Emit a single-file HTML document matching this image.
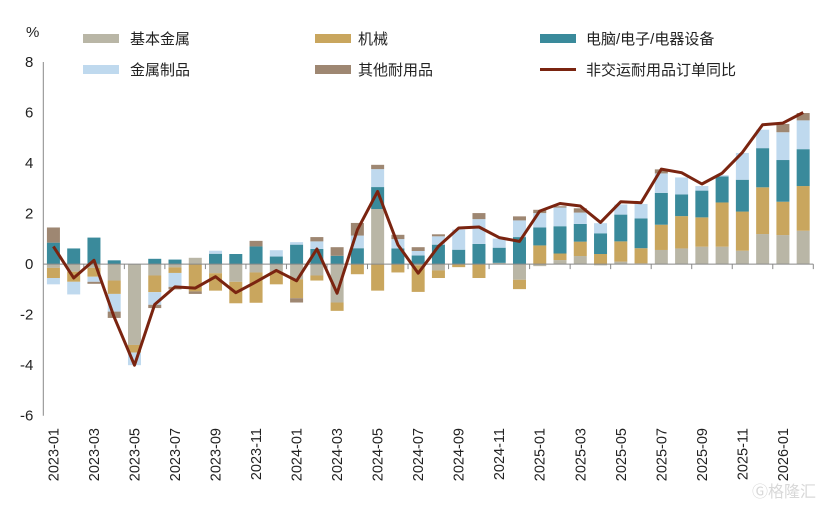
<!DOCTYPE html>
<html><head><meta charset="utf-8"><style>
body{margin:0;background:#fff;}
svg text{font-family:"Liberation Sans","Noto Sans CJK SC",sans-serif;}
</style></head><body>
<svg id="chart" width="828" height="507" viewBox="0 0 828 507" xmlns="http://www.w3.org/2000/svg">
<text x="26" y="37" font-size="15" fill="#222">%</text>
<g font-size="15" fill="#222">
 <rect x="83" y="34" width="36" height="9" fill="#b9b6a6"/>
 <text x="130" y="44">基本金属</text>
 <rect x="315" y="34" width="36" height="9" fill="#c9a65e"/>
 <text x="358" y="44">机械</text>
 <rect x="540" y="34" width="36" height="9" fill="#3a8a9b"/>
 <text x="586" y="44">电脑/电子/电器设备</text>
 <rect x="83" y="65" width="36" height="9" fill="#bfd9ee"/>
 <text x="130" y="75">金属制品</text>
 <rect x="315" y="65" width="36" height="9" fill="#9e8772"/>
 <text x="358" y="75">其他耐用品</text>
 <rect x="540" y="68" width="36" height="3" fill="#7a2410"/>
 <text x="586" y="75">非交运耐用品订单同比</text>
</g>
<g id="plot"></g>
<text x="752" y="497" font-size="16" fill="#d8d8d8">Ⓖ格隆汇</text>
</svg>
<script>
const months=["2023-01","2023-02","2023-03","2023-04","2023-05","2023-06","2023-07","2023-08","2023-09","2023-10","2023-11","2023-12","2024-01","2024-02","2024-03","2024-04","2024-05","2024-06","2024-07","2024-08","2024-09","2024-10","2024-11","2024-12","2025-01","2025-02","2025-03","2025-04","2025-05","2025-06","2025-07","2025-08","2025-09","2025-10","2025-11","2025-12","2026-01","2026-02"];
const baseMetals=[-0.15,-0.3,-0.15,-0.65,-3.2,-0.45,-0.13,0.25,-0.36,-0.7,-0.33,-0.3,-0.6,-0.45,-1.52,0,2.18,0,-0.05,-0.25,0,0,0.05,-0.62,-0.08,0.16,0.32,-0.05,0.1,0.03,0.56,0.62,0.69,0.69,0.53,1.19,1.15,1.32];
const machinery=[-0.4,-0.4,-0.35,-0.53,-0.3,-0.66,-0.22,-1.08,-0.69,-0.85,-1.2,-0.5,-0.75,-0.2,-0.33,-0.4,-1.05,-0.33,-1.05,-0.3,-0.12,-0.55,0,-0.37,0.74,0.26,0.57,0.4,0.8,0.6,1.0,1.28,1.16,1.75,1.55,1.85,1.32,1.77];
const electronics=[0.85,0.62,1.05,0.15,0,0.21,0.18,0,0.41,0.4,0.7,0.3,0.77,0.6,0.33,0.63,0.87,0.62,0.34,0.77,0.57,0.8,0.6,1.07,0.71,1.08,0.7,0.82,1.06,1.18,1.26,0.86,1.06,1.03,1.26,1.55,1.65,1.46];
const metalProducts=[-0.25,-0.5,-0.2,-0.7,-0.5,-0.5,-0.55,0,0.12,0,0,0.25,0.1,0.3,0,0.5,0.71,0.37,0.18,0.33,0.8,0.98,0.36,0.66,0.57,0.74,0.45,0.4,0.4,0.57,0.77,0.67,0.18,0.05,1.06,0.73,1.1,1.14];
const otherDurables=[0.6,0,-0.08,-0.25,0,-0.13,-0.1,-0.1,0,0,0.22,0,-0.17,0.17,0.34,0.5,0.17,0.17,0.15,0.08,0,0.24,0,0.16,0.13,0.05,0.17,0,0,0,0.16,0,0,0,0,0,0.33,0.29];
const totalYoY=[0.7,-0.55,0.15,-2.1,-4.0,-1.6,-0.9,-0.95,-0.5,-1.13,-0.7,-0.25,-0.66,0.6,-1.15,1.36,2.88,0.77,-0.36,0.7,1.43,1.47,1.05,0.9,2.1,2.4,2.3,1.65,2.47,2.43,3.76,3.62,3.17,3.6,4.42,5.52,5.58,6.0];
const yTicks=[8,6,4,2,0,-2,-4,-6];

const NS="http://www.w3.org/2000/svg";
const plot=document.getElementById('plot');
const L=43.3,R=813.3,yTop=62,yBot=415.7,yMax=8,yMin=-6;
const step=(R-L)/months.length;
const xC=i=>L+step*(i+0.5);
const yS=v=>yTop+(yMax-v)/(yMax-yMin)*(yBot-yTop);
function mk(tag,attrs){const e=document.createElementNS(NS,tag);for(const k in attrs)e.setAttribute(k,attrs[k]);plot.appendChild(e);return e;}

// y axis
let ax=mk('line',{x1:L,y1:yTop,x2:L,y2:yBot,stroke:'#888','stroke-width':1});


yTicks.forEach(t=>{
 const tx=mk('text',{x:L-10,y:yS(t)+5,'font-size':15,'text-anchor':'end',fill:'#222'});
 tx.textContent=t;
 
 
});

const series=[
 {name:'base-metals',data:baseMetals,color:'#b9b6a6'},
 {name:'machinery',data:machinery,color:'#c9a65e'},
 {name:'electronics',data:electronics,color:'#3a8a9b'},
 {name:'metal-products',data:metalProducts,color:'#bfd9ee'},
 {name:'other-durables',data:otherDurables,color:'#9e8772'}
];
const bw=13;
months.forEach((m,i)=>{
 let pos=0,neg=0;
 series.forEach(s=>{
  const v=s.data[i]; if(!v) return;
  let y0,y1;
  if(v>0){y0=pos;y1=pos+v;pos=y1;}else{y0=neg;y1=neg+v;neg=y1;}
  const r=mk('rect',{x:xC(i)-bw/2,y:Math.min(yS(y0),yS(y1)),width:bw,height:Math.abs(yS(y1)-yS(y0)),fill:s.color});
  
  
 });
});

// x axis at zero
let xa=mk('line',{x1:L,y1:yS(0),x2:R,y2:yS(0),stroke:'#888','stroke-width':1});


months.forEach((m,i)=>{
 if(i%2===0 && i>0){
  const tk=mk('line',{x1:L+step*i,y1:yS(0),x2:L+step*i,y2:yS(0)+5,stroke:'#888','stroke-width':1});
  
  
 }
 if(i%2===0){
  const x=xC(i)+5,y=428;
  const t=mk('text',{x:x,y:y,'font-size':14.5,'text-anchor':'end',fill:'#222',transform:`rotate(-90 ${x} ${y})`});
  t.textContent=m;
  
  
 }
});
let endTick=mk('line',{x1:R,y1:yS(0),x2:R,y2:yS(0)+5,stroke:'#888','stroke-width':1});



const pts=totalYoY.map((v,i)=>xC(i).toFixed(1)+','+yS(v).toFixed(1)).join(' ');
const ln=mk('polyline',{points:pts,fill:'none',stroke:'#7a2410','stroke-width':3,'stroke-linejoin':'round'});


</script>
</body></html>
